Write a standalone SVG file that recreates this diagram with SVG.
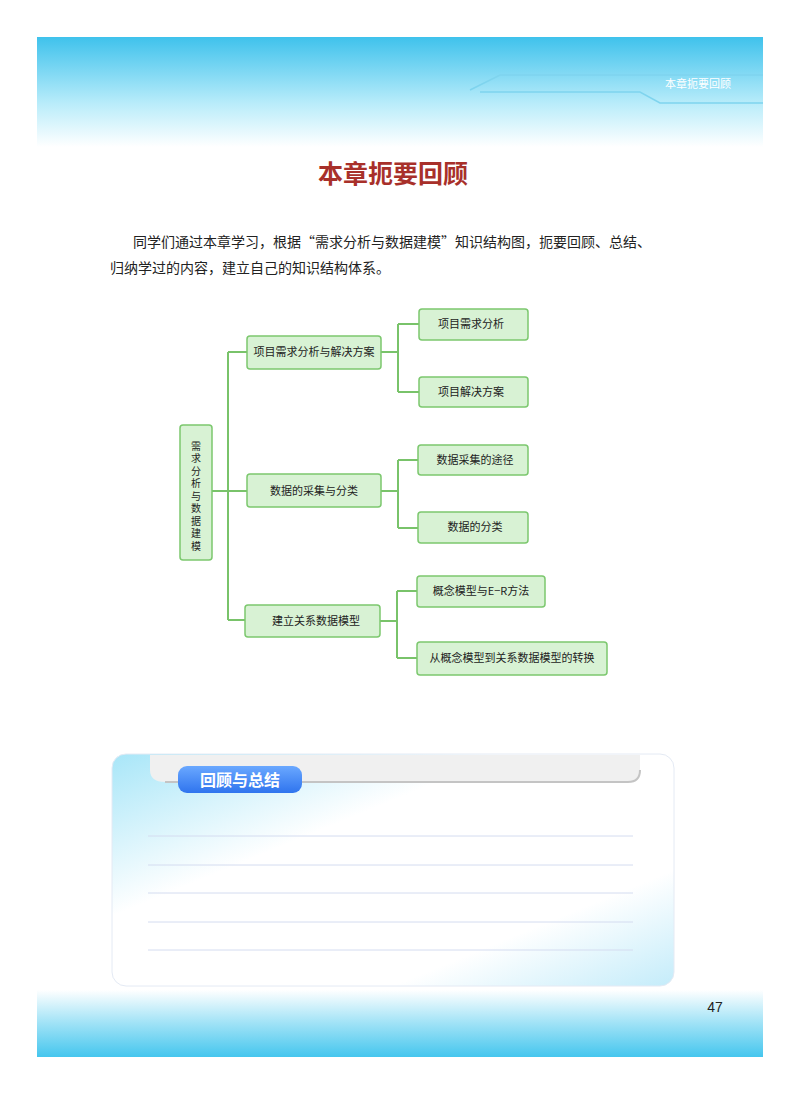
<svg xmlns="http://www.w3.org/2000/svg" width="800" height="1094" viewBox="0 0 800 1094">
<style>
.n{fill:#d8f2d4;stroke:#7cc86e;stroke-width:1.5}
.t{font-family:"Noto Sans CJK SC",serif;font-size:11px;fill:#222;text-anchor:middle}
.c{fill:none;stroke:#79c36a;stroke-width:2}
.l{stroke:#d4dcf0;stroke-width:1}
</style>
<defs>
<linearGradient id="hd" x1="0" y1="0" x2="0" y2="1"><stop offset="0" stop-color="#3fc2ec"/><stop offset="0.6" stop-color="#b8ecfa"/><stop offset="1" stop-color="#ffffff"/></linearGradient>
<linearGradient id="ft" x1="0" y1="0" x2="0" y2="1"><stop offset="0" stop-color="#ffffff"/><stop offset="0.5" stop-color="#9fe2f6"/><stop offset="1" stop-color="#45c6ee"/></linearGradient>
<linearGradient id="bx" x1="0" y1="0" x2="1" y2="1"><stop offset="0" stop-color="#a8e6f8"/><stop offset="0.35" stop-color="#ffffff"/><stop offset="0.75" stop-color="#ffffff"/><stop offset="1" stop-color="#c4ecfa"/></linearGradient>
<linearGradient id="tag" x1="0" y1="0" x2="0" y2="1"><stop offset="0" stop-color="#6aa8ff"/><stop offset="1" stop-color="#2f74ee"/></linearGradient>
</defs>
<rect x="37" y="37" width="726" height="110" fill="url(#hd)"/>
<path d="M470 90 L500 75 L763 75 M480 92 L640 92 L660 103 L763 103" fill="none" stroke="#7fd4ee" stroke-width="1.5"/>
<text x="698" y="88" font-family="Noto Sans CJK SC,sans-serif" font-size="11" fill="#ffffff" text-anchor="middle">本章扼要回顾</text>
<text x="393" y="183" font-family="Noto Sans CJK SC,sans-serif" font-size="25" font-weight="bold" fill="#a8302a" text-anchor="middle">本章扼要回顾</text>
<text x="133" y="247" font-family="Noto Sans CJK SC,serif" font-size="14" fill="#222">同学们通过本章学习，根据“需求分析与数据建模”知识结构图，扼要回顾、总结、</text>
<text x="110" y="273" font-family="Noto Sans CJK SC,serif" font-size="14" fill="#222">归纳学过的内容，建立自己的知识结构体系。</text>
<g id="connectors">
<path class="c" d="M212 491 H228 M228 352 V620 M228 352 H247 M228 491 H247 M228 620 H245"/>
<path class="c" d="M381 352 H398 M398 324 V392 M398 324 H419 M398 392 H419"/>
<path class="c" d="M381 491 H398 M398 460 V528 M398 460 H418 M398 528 H418"/>
<path class="c" d="M380 621 H397 M397 591 V658 M397 591 H417 M397 658 H417"/>
</g>
<g id="root"><rect class="n" x="180" y="425" width="32" height="135" rx="3"/>
<text x="196" y="441" writing-mode="vertical-rl" letter-spacing="2.5" font-family="Noto Sans CJK SC,serif" font-size="10" fill="#222">需求分析与数据建模</text></g>
<g id="m1"><rect class="n" x="247" y="336" width="134" height="33" rx="3"/><text class="t" x="314" y="356">项目需求分析与解决方案</text></g>
<g id="m2"><rect class="n" x="247" y="474" width="134" height="33" rx="3"/><text class="t" x="314" y="495">数据的采集与分类</text></g>
<g id="m3"><rect class="n" x="245" y="605" width="135" height="32" rx="3"/><text class="t" x="316" y="625">建立关系数据模型</text></g>
<g id="l1"><rect class="n" x="419" y="309" width="109" height="31" rx="3"/><text class="t" x="471" y="328">项目需求分析</text></g>
<g id="l2"><rect class="n" x="419" y="377" width="109" height="30" rx="3"/><text class="t" x="471" y="396">项目解决方案</text></g>
<g id="l3"><rect class="n" x="418" y="445" width="110" height="30" rx="3"/><text class="t" x="475" y="464">数据采集的途径</text></g>
<g id="l4"><rect class="n" x="418" y="512" width="110" height="31" rx="3"/><text class="t" x="475" y="531">数据的分类</text></g>
<g id="l5"><rect class="n" x="417" y="576" width="128" height="31" rx="3"/><text class="t" x="481" y="595">概念模型与E−R方法</text></g>
<g id="l6"><rect class="n" x="417" y="642" width="190" height="33" rx="3"/><text class="t" x="512" y="662">从概念模型到关系数据模型的转换</text></g>
<rect x="37" y="990" width="726" height="67" fill="url(#ft)"/>
<rect x="112" y="754" width="562" height="232" rx="14" fill="url(#bx)" stroke="#e4eaf4"/>
<path d="M150 755 H640 V770 Q640 782 628 782 H165 Q150 782 150 770 Z" fill="#f0f0f0"/>
<path d="M165 782 H628 Q640 782 640 770" fill="none" stroke="#c4c4c4" stroke-width="2"/>
<rect x="178" y="766" width="124" height="27" rx="9" fill="url(#tag)"/>
<text x="240" y="786" font-family="Noto Sans CJK SC,sans-serif" font-size="16" font-weight="bold" fill="#ffffff" text-anchor="middle">回顾与总结</text>
<line class="l" x1="148" y1="836" x2="633" y2="836"/>
<line class="l" x1="148" y1="865" x2="633" y2="865"/>
<line class="l" x1="148" y1="893" x2="633" y2="893"/>
<line class="l" x1="148" y1="922" x2="633" y2="922"/>
<line class="l" x1="148" y1="950" x2="633" y2="950"/>
<text x="715" y="1012" font-family="Liberation Sans,sans-serif" font-size="14" fill="#222" text-anchor="middle">47</text>
</svg>
